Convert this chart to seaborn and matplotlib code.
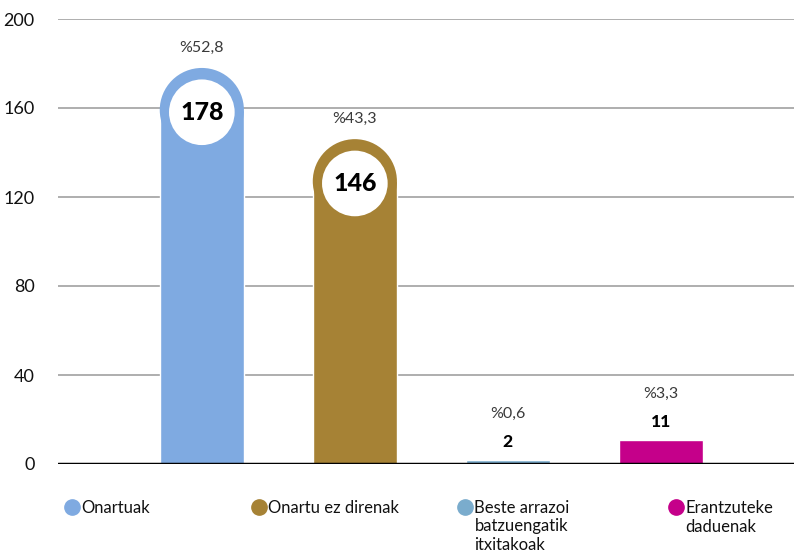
import numpy as np
import pandas as pd
import matplotlib
matplotlib.use('Agg')
import matplotlib.pyplot as plt
import seaborn as sns
from matplotlib.patches import Ellipse
from matplotlib.lines import Line2D

categories = ['Onartuak', 'Onartu ez direnak', 'Beste arrazoi batzuengatik itxitakoak', 'Erantzuteke daduenak']
legend_lines = [['Onartuak'], ['Onartu ez direnak'], ['Beste arrazoi', 'batzuengatik', 'itxitakoak'],
                ['Erantzuteke', 'daduenak']]
counts = [178, 146, 2, 11]
percents = ['%52,8', '%43,3', '%0,6', '%3,3']
colors = ['#7FAAE1', '#A68235', '#7AACCD', '#C5008A']
yticks = [0, 40, 80, 120, 160, 200]

sns.set_theme(style='white')
plt.rcParams['font.family'] = ['Lato', 'DejaVu Sans']

df = pd.DataFrame({'cat': categories, 'n': counts})

W, H = 794, 552
fig = plt.figure(figsize=(W / 100, H / 100), dpi=100)
ax = fig.add_axes([58 / W, 1 - 464 / H, 1 - 58 / W, (464 - 19) / H])

bw = 0.55
sns.barplot(data=df, x='cat', y='n', hue='cat', palette=colors, width=bw,
            legend=False, ax=ax, saturation=1, zorder=3)

ax.set_xlim(-0.94, 3.87)
ax.set_ylim(0, 200)
ax.set_yticks(yticks)
ax.set_yticklabels([str(t) for t in yticks], fontsize=13, color='#111111')
ax.set_xticks([])
ax.set_xlabel('')
ax.set_ylabel('')
for s in ax.spines.values():
    s.set_visible(False)
ax.tick_params(axis='y', length=0, pad=17)
ax.grid(axis='y', color='#a8a8a8', linewidth=1.3, zorder=0)
ax.axhline(0, color='black', linewidth=2.5, zorder=4)

# pixel -> data scale for rounding the tall bars
fig.canvas.draw()
ppu_y = ax.transData.transform((0, 1))[1] - ax.transData.transform((0, 0))[1]
ppu_x = ax.transData.transform((1, 0))[0] - ax.transData.transform((0, 0))[0]
r_px = bw * ppu_x / 2
r_data = r_px / ppu_y

for i, (p, n) in enumerate(zip(ax.patches, counts)):
    cx = p.get_x() + p.get_width() / 2
    if n > 50:
        p.set_height(n - r_data)
        ax.add_patch(Ellipse((cx, n - r_data), bw, 2 * r_data, facecolor=colors[i], zorder=3, lw=0))
        circ_r = r_px * 0.78
        cy = n - r_data - 1.0
        ax.add_patch(Ellipse((cx, cy), 2 * circ_r / ppu_x, 2 * circ_r / ppu_y,
                             facecolor='white', zorder=4, lw=0))
        ax.text(cx, cy, str(n), ha='center', va='center', fontsize=18,
                fontweight='black', color='black', zorder=5)
        ax.text(cx, n + 9, percents[i], ha='center', va='center', fontsize=11.5,
                fontweight='normal', color='#3a3a3a')
    else:
        ax.text(cx, n + 8, str(n), ha='center', va='center', fontsize=12.5,
                fontweight='black', color='black')
        ax.text(cx, n + 20.5, percents[i], ha='center', va='center', fontsize=11.5,
                fontweight='normal', color='#3a3a3a')

# legend entries at fixed positions
marker_x = [64, 251, 457, 668]
y0 = 508
line_h = 18.5
for lines, c, mx in zip(legend_lines, colors, marker_x):
    h = Line2D([], [], marker='o', linestyle='', markersize=11, color=c)
    lg = fig.legend([h], [lines[0]], loc='center left', bbox_to_anchor=(mx / W, 1 - y0 / H),
                    frameon=False, fontsize=12, handletextpad=0.15, handlelength=0.9,
                    borderaxespad=0, borderpad=0)
    t0 = lg.get_texts()[0]
    t0.set_color('#111111')
    fig.canvas.draw()
    tx = t0.get_window_extent().x0 / W
    for k, extra in enumerate(lines[1:], start=1):
        fig.text(tx, 1 - (y0 + k * line_h) / H, extra, ha='left', va='center',
                 fontsize=12, color='#111111')

fig.savefig('out.png', dpi=100)
